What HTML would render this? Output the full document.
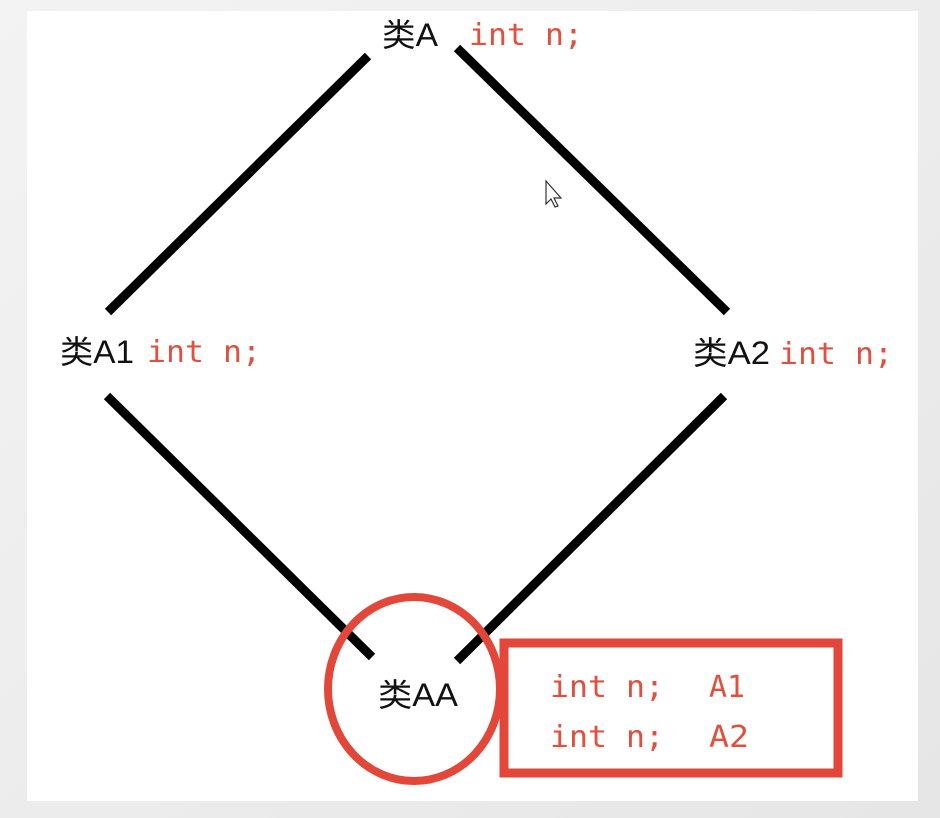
<!DOCTYPE html>
<html><head><meta charset="utf-8"><style>
html,body{margin:0;padding:0;width:940px;height:818px;overflow:hidden;background:#eeeeee;}
</style></head><body>
<svg width="940" height="818" viewBox="0 0 940 818" xmlns="http://www.w3.org/2000/svg">
<defs><linearGradient id="bg" x1="0" y1="0" x2="1" y2="1"><stop offset="0" stop-color="#f3f3f3"/><stop offset="1" stop-color="#e6e6e6"/></linearGradient></defs>
<rect width="940" height="818" fill="url(#bg)"/>
<rect x="27" y="11" width="891" height="790" fill="#fff"/>
<g stroke="#000" stroke-width="9" stroke-linecap="butt">
<line x1="368" y1="56" x2="108" y2="312"/>
<line x1="457" y1="48" x2="727" y2="312"/>
<line x1="107" y1="396" x2="372" y2="657"/>
<line x1="724" y1="396" x2="457" y2="661"/>
</g>
<ellipse cx="414" cy="689" rx="86" ry="92" fill="none" stroke="#e2473a" stroke-width="8"/>
<rect x="504" y="643" width="334" height="130" fill="none" stroke="#e2473a" stroke-width="9"/>
<g font-family="'Liberation Sans','Noto Sans CJK SC',sans-serif" font-size="32" fill="#111">
<text x="382" y="46" textLength="56" lengthAdjust="spacingAndGlyphs">类A</text>
<text x="60" y="363" textLength="74" lengthAdjust="spacingAndGlyphs">类A1</text>
<text x="693" y="364" textLength="77" lengthAdjust="spacingAndGlyphs">类A2</text>
<text x="378" y="706" textLength="80" lengthAdjust="spacingAndGlyphs">类AA</text>
</g>
<g font-family="'DejaVu Sans Mono','Liberation Mono',monospace" font-size="30" fill="#e0503e">
<text x="469" y="45" textLength="114" lengthAdjust="spacingAndGlyphs">int n;</text>
<text x="147" y="362" textLength="114" lengthAdjust="spacingAndGlyphs">int n;</text>
<text x="779" y="364" textLength="114" lengthAdjust="spacingAndGlyphs">int n;</text>
<text x="550" y="697" textLength="114" lengthAdjust="spacingAndGlyphs">int n;</text>
<text x="709" y="697" textLength="36" lengthAdjust="spacingAndGlyphs">A1</text>
<text x="550" y="747" textLength="114" lengthAdjust="spacingAndGlyphs">int n;</text>
<text x="709" y="747" textLength="40" lengthAdjust="spacingAndGlyphs">A2</text>
</g>
<path d="M546 181 L546 204 L551 199 L555 207 L558 206 L554 198 L561 198 Z" fill="#fff" stroke="#333" stroke-width="1.2"/>
</svg>
</body></html>
